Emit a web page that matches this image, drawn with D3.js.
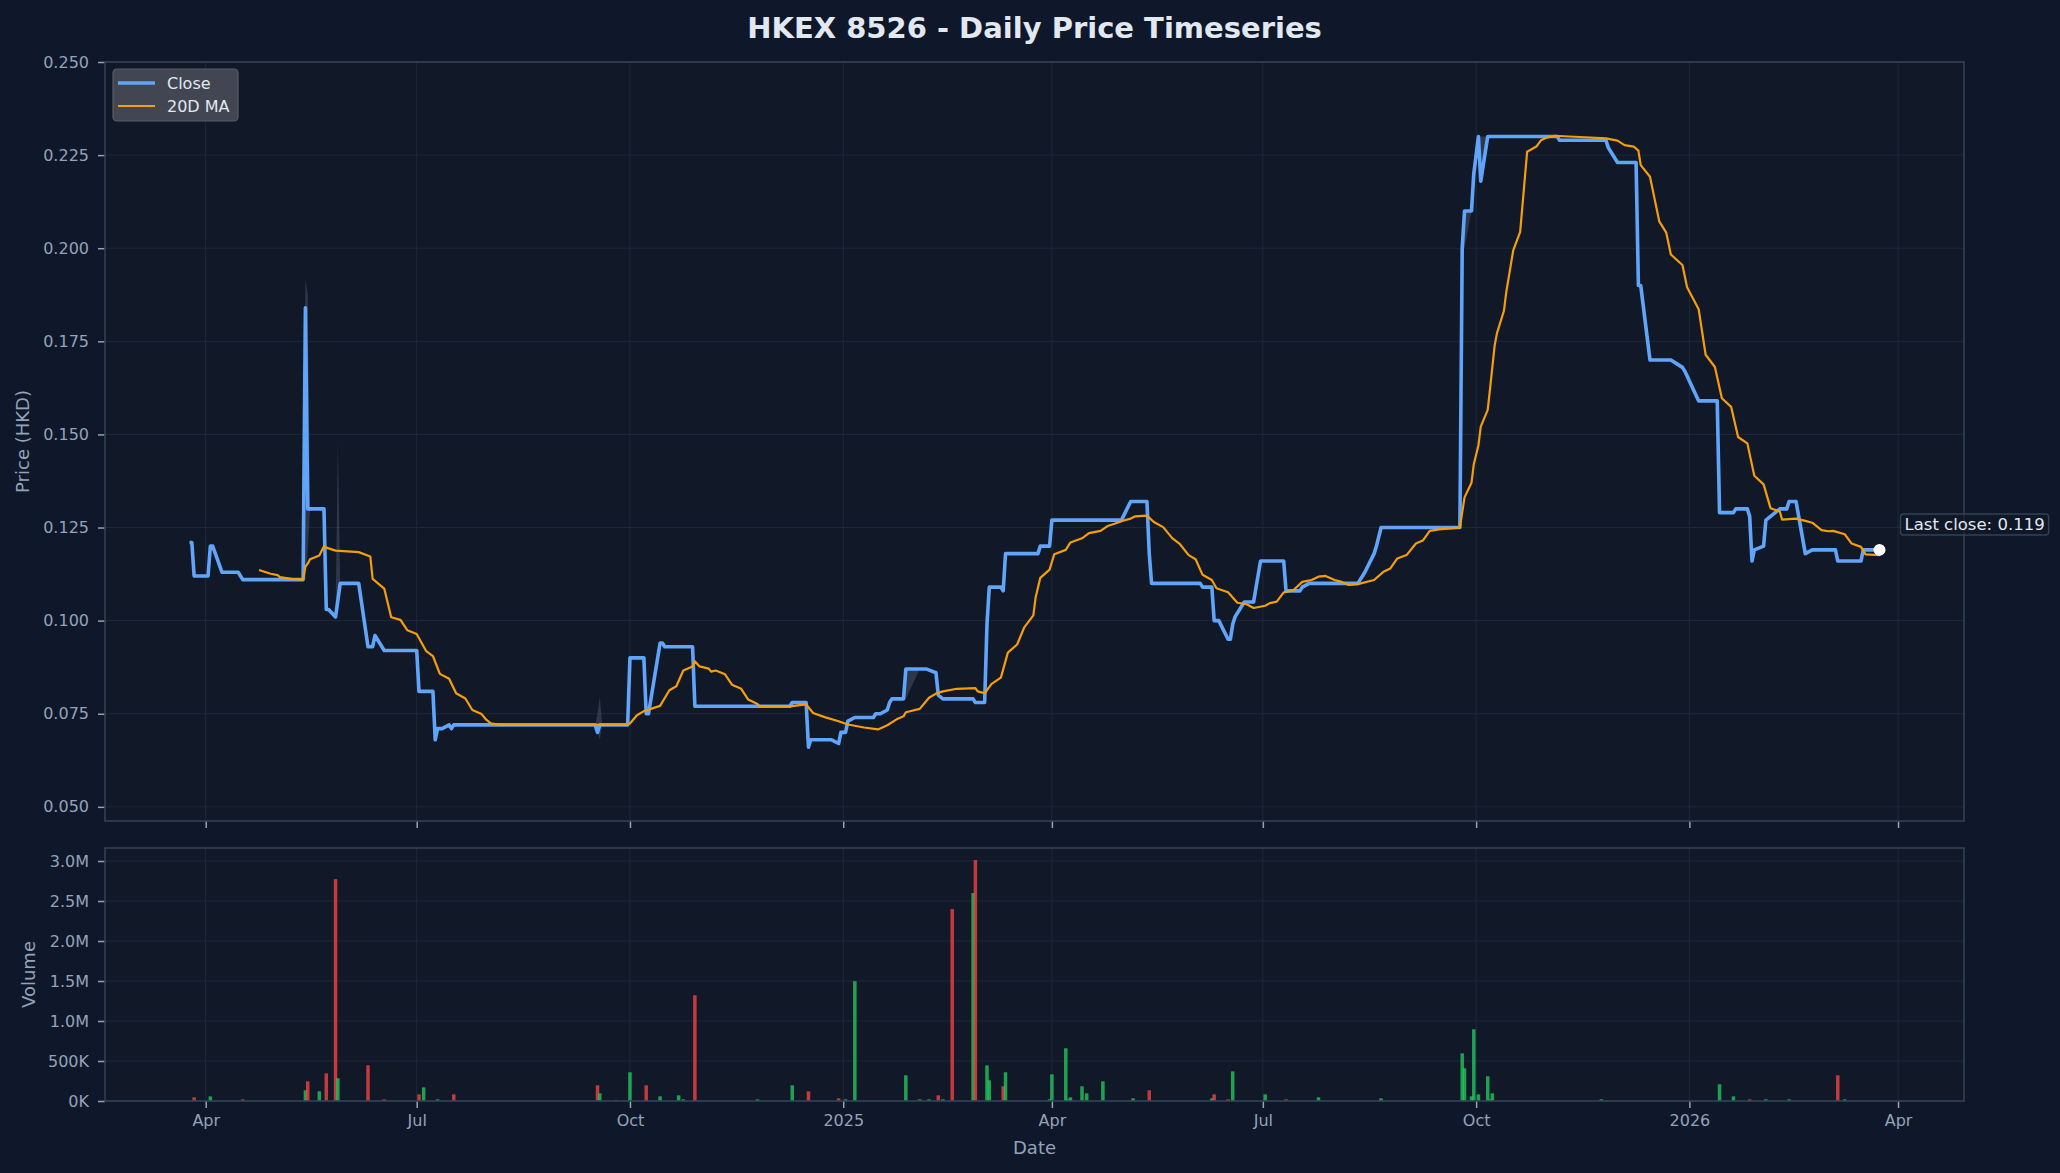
<!DOCTYPE html>
<html lang="en">
<head>
<meta charset="UTF-8">
<title>HKEX 8526 - Daily Price Timeseries</title>
<script src="https://d3js.org/d3.v7.min.js"></script>
<style>
    html, body { margin: 0; padding: 0; background: #0f172a; }
    svg { display: block; font-family: "DejaVu Sans", sans-serif; }
    .tick text { fill: #94a3b8; }
    .tick line { stroke: #94a3b8; stroke-width: 1.5; }
    .grid line { stroke: #1e293b; stroke-width: 1; }
</style>
</head>
<body>
<svg id="chart" width="2060" height="1173"></svg>
<script>
// close price vertices (date, HKD)
const closeData = [
["2024-03-25",0.121],["2024-03-26",0.121],["2024-03-27",0.112],["2024-04-02",0.112],["2024-04-03",0.120],["2024-04-04",0.120],["2024-04-08",0.113],["2024-04-15",0.113],["2024-04-16",0.112],["2024-04-17",0.111],
["2024-05-13",0.111],["2024-05-14",0.184],["2024-05-15",0.130],["2024-05-22",0.130],["2024-05-23",0.103],["2024-05-24",0.103],["2024-05-27",0.101],["2024-05-29",0.110],["2024-06-06",0.110],["2024-06-10",0.093],["2024-06-12",0.093],["2024-06-13",0.096],["2024-06-17",0.092],
["2024-07-01",0.092],["2024-07-02",0.081],["2024-07-08",0.081],["2024-07-09",0.068],["2024-07-10",0.071],["2024-07-12",0.071],["2024-07-15",0.072],["2024-07-16",0.071],["2024-07-17",0.072],
["2024-09-16",0.072],["2024-09-17",0.070],["2024-09-18",0.072],["2024-09-30",0.072],["2024-10-01",0.090],["2024-10-07",0.090],["2024-10-08",0.075],["2024-10-09",0.075],["2024-10-14",0.094],["2024-10-15",0.094],["2024-10-16",0.093],["2024-10-28",0.093],["2024-10-29",0.077],
["2024-12-09",0.077],["2024-12-10",0.078],["2024-12-16",0.078],["2024-12-17",0.066],["2024-12-18",0.068],["2024-12-27",0.068],["2024-12-30",0.067],["2024-12-31",0.070],["2025-01-02",0.070],["2025-01-03",0.073],["2025-01-06",0.074],["2025-01-14",0.074],["2025-01-15",0.075],["2025-01-17",0.075],["2025-01-20",0.076],["2025-01-21",0.078],["2025-01-22",0.079],["2025-01-27",0.079],["2025-01-28",0.087],["2025-02-06",0.087],["2025-02-10",0.086],["2025-02-11",0.080],["2025-02-13",0.079],["2025-02-26",0.079],["2025-02-27",0.078],["2025-03-03",0.078],["2025-03-04",0.099],["2025-03-05",0.109],["2025-03-10",0.109],["2025-03-11",0.108],["2025-03-12",0.118],["2025-03-26",0.118],["2025-03-27",0.120],["2025-03-31",0.120],["2025-04-01",0.127],
["2025-05-01",0.127],["2025-05-05",0.132],["2025-05-12",0.132],["2025-05-13",0.118],["2025-05-14",0.110],["2025-06-04",0.110],["2025-06-05",0.109],["2025-06-09",0.109],["2025-06-10",0.100],["2025-06-12",0.100],["2025-06-16",0.095],["2025-06-17",0.095],["2025-06-18",0.099],["2025-06-19",0.101],["2025-06-23",0.105],["2025-06-27",0.105],["2025-06-30",0.116],["2025-07-10",0.116],["2025-07-11",0.108],["2025-07-17",0.108],["2025-07-18",0.109],["2025-07-21",0.110],["2025-08-11",0.110],["2025-08-12",0.111],["2025-08-13",0.112],["2025-08-14",0.113],["2025-08-18",0.118],["2025-08-19",0.120],["2025-08-21",0.125],
["2025-09-24",0.125],["2025-09-25",0.200],["2025-09-26",0.210],["2025-09-29",0.210],["2025-09-30",0.220],["2025-10-02",0.230],["2025-10-03",0.218],["2025-10-06",0.230],["2025-11-05",0.230],["2025-11-06",0.229],["2025-11-26",0.229],["2025-11-27",0.227],["2025-12-01",0.223],["2025-12-09",0.223],["2025-12-10",0.190],["2025-12-11",0.190],["2025-12-15",0.170],["2025-12-24",0.170],["2025-12-29",0.168],["2025-12-30",0.167],["2026-01-02",0.163],["2026-01-05",0.159],["2026-01-13",0.159],["2026-01-14",0.129],["2026-01-20",0.129],["2026-01-21",0.130],["2026-01-26",0.130],["2026-01-27",0.128],["2026-01-28",0.116],["2026-01-29",0.119],["2026-02-02",0.120],["2026-02-03",0.127],["2026-02-05",0.128],["2026-02-09",0.130],["2026-02-12",0.130],["2026-02-13",0.132],["2026-02-16",0.132],["2026-02-20",0.118],["2026-02-23",0.119],["2026-03-05",0.119],["2026-03-06",0.116],["2026-03-16",0.116],["2026-03-17",0.119],["2026-03-24",0.119]
];

// 20 day moving average vertices
const maData = [
["2024-04-24",0.1136],["2024-04-29",0.1126],["2024-05-02",0.1122],["2024-05-03",0.1117],["2024-05-08",0.1112],["2024-05-13",0.1110],["2024-05-14",0.1145],["2024-05-15",0.1153],["2024-05-16",0.1165],["2024-05-20",0.1175],["2024-05-22",0.1200],["2024-05-23",0.1196],["2024-05-27",0.1188],["2024-06-06",0.1184],["2024-06-11",0.1172],["2024-06-12",0.1112],["2024-06-17",0.1086],["2024-06-20",0.1009],["2024-06-24",0.1002],["2024-06-27",0.0974],["2024-07-01",0.0964],["2024-07-05",0.0919],["2024-07-08",0.0905],["2024-07-11",0.0857],["2024-07-15",0.0844],["2024-07-18",0.0805],["2024-07-22",0.0791],["2024-07-25",0.0760],["2024-07-29",0.0749],["2024-07-31",0.0734],["2024-08-02",0.0724],["2024-08-06",0.0720],
["2024-09-30",0.0720],["2024-10-01",0.0724],["2024-10-04",0.0746],["2024-10-07",0.0757],["2024-10-10",0.0763],["2024-10-14",0.0771],["2024-10-18",0.0813],["2024-10-21",0.0824],["2024-10-24",0.0866],["2024-10-28",0.0877],["2024-10-29",0.0891],["2024-10-31",0.0877],["2024-11-04",0.0871],["2024-11-05",0.0863],["2024-11-07",0.0866],["2024-11-11",0.0856],["2024-11-14",0.0828],["2024-11-18",0.0817],["2024-11-21",0.0788],["2024-11-25",0.0776],["2024-11-26",0.0770],["2024-12-09",0.0770],["2024-12-16",0.0775],["2024-12-19",0.0752],["2024-12-24",0.0741],["2024-12-30",0.0730],["2025-01-03",0.0721],["2025-01-10",0.0713],["2025-01-16",0.0708],["2025-01-20",0.0719],["2025-01-24",0.0735],["2025-01-27",0.0743],["2025-01-28",0.0754],["2025-02-03",0.0763],["2025-02-07",0.0793],["2025-02-10",0.0804],["2025-02-13",0.0810],["2025-02-19",0.0817],["2025-02-27",0.0819],["2025-02-28",0.0810],["2025-03-03",0.0805],["2025-03-06",0.0830],["2025-03-10",0.0847],["2025-03-13",0.0914],["2025-03-17",0.0936],["2025-03-20",0.0981],["2025-03-24",0.1014],["2025-03-25",0.1063],["2025-03-27",0.1115],["2025-03-31",0.1137],["2025-04-02",0.1178],["2025-04-07",0.1190],["2025-04-09",0.1210],["2025-04-14",0.1221],["2025-04-17",0.1235],["2025-04-22",0.1241],["2025-04-25",0.1254],["2025-04-28",0.1260],["2025-05-02",0.1269],["2025-05-05",0.1274],["2025-05-07",0.1280],["2025-05-12",0.1282],["2025-05-15",0.1265],["2025-05-19",0.1251],["2025-05-23",0.1221],["2025-05-26",0.1207],["2025-05-30",0.1176],["2025-06-02",0.1165],["2025-06-05",0.1123],["2025-06-09",0.1109],["2025-06-11",0.1087],["2025-06-16",0.1076],["2025-06-20",0.1048],["2025-06-24",0.1044],["2025-06-27",0.1034],["2025-07-02",0.1040],["2025-07-04",0.1047],["2025-07-07",0.1051],["2025-07-10",0.1076],["2025-07-14",0.1081],["2025-07-18",0.1104],["2025-07-22",0.1109],["2025-07-25",0.1118],["2025-07-28",0.1120],["2025-08-01",0.1109],["2025-08-04",0.1104],["2025-08-07",0.1096],["2025-08-11",0.1098],["2025-08-18",0.1109],["2025-08-22",0.1131],["2025-08-25",0.1140],["2025-08-28",0.1167],["2025-09-01",0.1176],["2025-09-05",0.1207],["2025-09-08",0.1215],["2025-09-11",0.1241],["2025-09-15",0.1245],["2025-09-24",0.1250],["2025-09-26",0.1331],["2025-09-29",0.1370],["2025-09-30",0.1420],["2025-10-02",0.1471],["2025-10-03",0.1521],["2025-10-06",0.1566],["2025-10-07",0.1622],["2025-10-09",0.1739],["2025-10-10",0.1772],["2025-10-13",0.1832],["2025-10-14",0.1882],["2025-10-17",0.1994],["2025-10-20",0.2044],["2025-10-23",0.2259],["2025-10-27",0.2273],["2025-10-29",0.2290],["2025-10-31",0.2296],["2025-11-04",0.2302],["2025-11-10",0.2300],["2025-11-17",0.2298],["2025-11-26",0.2295],["2025-12-01",0.2289],["2025-12-04",0.2277],["2025-12-08",0.2273],["2025-12-10",0.2262],["2025-12-11",0.2223],["2025-12-15",0.2192],["2025-12-19",0.2072],["2025-12-22",0.2042],["2025-12-24",0.1983],["2025-12-29",0.1955],["2025-12-31",0.1895],["2026-01-05",0.1836],["2026-01-08",0.1714],["2026-01-12",0.1681],["2026-01-15",0.1597],["2026-01-19",0.1574],["2026-01-22",0.1493],["2026-01-26",0.1476],["2026-01-29",0.1389],["2026-02-02",0.1366],["2026-02-05",0.1302],["2026-02-09",0.1293],["2026-02-10",0.1271],["2026-02-16",0.1274],["2026-02-20",0.1268],["2026-02-23",0.1263],["2026-02-27",0.1243],["2026-03-02",0.1240],["2026-03-04",0.1241],["2026-03-09",0.1232],["2026-03-12",0.1207],["2026-03-16",0.1198],["2026-03-18",0.1178],["2026-03-24",0.1176]
];

// daily high / low band where it leaves the close line: [date, low, high]
const hlBands = [
  [["2024-05-13",0.111,0.111],["2024-05-14",0.111,0.1916],["2024-05-15",0.118,0.1877],["2024-05-16",0.130,0.130]],
  [["2024-05-27",0.101,0.101],["2024-05-28",0.104,0.148],["2024-05-29",0.110,0.110]],
  [["2024-09-16",0.072,0.072],["2024-09-17",0.070,0.075],["2024-09-18",0.068,0.0796],["2024-09-19",0.072,0.072]],
  [["2025-01-27",0.079,0.079],["2025-01-28",0.079,0.087],["2025-02-03",0.087,0.087]],
  [["2025-09-25",0.200,0.200],["2025-09-26",0.200,0.210],["2025-09-29",0.210,0.210]],
  [["2025-10-02",0.230,0.230],["2025-10-03",0.218,0.230],["2025-10-06",0.230,0.230]]
];

// volume bars: [date, shares, direction]
const volumeData = [
["2024-03-27",46000,"down"],["2024-04-03",58000,"up"],["2024-04-17",21000,"down"],["2024-05-14",134000,"up"],["2024-05-15",246000,"down"],["2024-05-20",121000,"up"],["2024-05-23",346000,"down"],["2024-05-27",2774000,"down"],["2024-05-28",284000,"up"],["2024-06-10",446000,"down"],["2024-06-17",21000,"down"],["2024-07-02",83000,"down"],["2024-07-04",171000,"up"],["2024-07-10",21000,"up"],["2024-07-17",83000,"down"],
["2024-09-17",196000,"down"],["2024-09-18",96000,"up"],["2024-09-25",8000,"up"],["2024-10-01",359000,"up"],["2024-10-08",196000,"down"],["2024-10-14",58000,"up"],["2024-10-22",71000,"up"],["2024-10-24",21000,"up"],["2024-10-29",1322000,"down"],["2024-11-25",21000,"up"],["2024-12-10",196000,"up"],["2024-12-17",121000,"down"],["2024-12-30",33000,"down"],
["2025-01-02",21000,"up"],["2025-01-06",1498000,"up"],["2025-01-28",321000,"up"],["2025-02-03",21000,"up"],["2025-02-07",21000,"up"],["2025-02-11",71000,"down"],["2025-02-13",21000,"up"],["2025-02-17",2399000,"down"],["2025-02-26",2599000,"up"],["2025-02-27",3012000,"down"],["2025-03-04",446000,"up"],["2025-03-05",259000,"up"],["2025-03-11",184000,"down"],["2025-03-12",359000,"up"],["2025-03-31",21000,"up"],["2025-04-01",334000,"up"],["2025-04-07",659000,"up"],["2025-04-08",21000,"up"],["2025-04-09",46000,"up"],["2025-04-14",184000,"up"],["2025-04-16",96000,"up"],["2025-04-23",246000,"up"],["2025-05-06",33000,"up"],["2025-05-13",134000,"down"],["2025-06-09",33000,"up"],["2025-06-10",83000,"down"],["2025-06-16",21000,"down"],["2025-06-18",371000,"up"],["2025-07-02",83000,"up"],["2025-07-11",21000,"down"],["2025-07-25",46000,"up"],["2025-08-21",33000,"up"],
["2025-09-25",596000,"up"],["2025-09-26",409000,"up"],["2025-09-29",58000,"up"],["2025-09-30",897000,"up"],["2025-10-02",83000,"up"],["2025-10-06",309000,"up"],["2025-10-07",21000,"up"],["2025-10-08",96000,"up"],["2025-11-24",21000,"up"],
["2026-01-14",209000,"up"],["2026-01-20",58000,"up"],["2026-01-27",21000,"down"],["2026-02-03",21000,"up"],["2026-02-13",21000,"up"],["2026-03-06",321000,"down"],["2026-03-09",21000,"up"]
];

const priceTicks = [0.050, 0.075, 0.100, 0.125, 0.150, 0.175, 0.200, 0.225, 0.250];
const volumeTicks = [0, 500000, 1000000, 1500000, 2000000, 2500000, 3000000];
const priceRange = [0.0462, 0.250];

const parse = d3.utcParse("%Y-%m-%d");
const close = closeData.map(d => ({date: parse(d[0]), value: d[1]}));
const ma = maData.map(d => ({date: parse(d[0]), value: d[1]}));
const bands = hlBands.map(b => b.map(d => ({date: parse(d[0]), low: d[1], high: d[2]})));
const vols = volumeData.map(d => ({date: parse(d[0]), value: d[1], dir: d[2]}));

const svg = d3.select("#chart");
const left = 105, right = 1964;
const pTop = 62, pBottom = 821;
const vTop = 848, vBottom = 1101;
const FONT = "DejaVu Sans";

// x domain padded 5% each side like matplotlib
const first = close[0].date, last = close[close.length - 1].date;
const pad = (last - first) * 0.05;
const x = d3.scaleUtc().domain([new Date(+first - pad), new Date(+last + pad)]).range([left, right]);
const y = d3.scaleLinear().domain(priceRange).range([pBottom, pTop]);
const yVol = d3.scaleLinear().domain([0, d3.max(vols, d => d.value) * 1.05]).range([vBottom, vTop]);

const xTicks = d3.utcMonth.every(3).range(x.domain()[0], x.domain()[1]);
const fmtX = d => d.getUTCMonth() === 0 ? d3.utcFormat("%Y")(d) : d3.utcFormat("%b")(d);
const fmtVol = v => v < 1e6 ? (v / 1e3).toFixed(0) + "K" : (v / 1e6).toFixed(1) + "M";

// panel backgrounds
svg.append("rect").attr("x", left).attr("y", pTop).attr("width", right - left).attr("height", pBottom - pTop).attr("fill", "#111827");
svg.append("rect").attr("x", left).attr("y", vTop).attr("width", right - left).attr("height", vBottom - vTop).attr("fill", "#111827");

// grids
const gridP = svg.append("g").attr("class", "grid");
gridP.selectAll(".gy").data(priceTicks).enter().append("line")
    .attr("x1", left).attr("x2", right).attr("y1", d => y(d)).attr("y2", d => y(d));
gridP.selectAll(".gx").data(xTicks).enter().append("line")
    .attr("x1", d => x(d)).attr("x2", d => x(d)).attr("y1", pTop).attr("y2", pBottom);
const gridV = svg.append("g").attr("class", "grid");
gridV.selectAll(".gy").data(volumeTicks).enter().append("line")
    .attr("x1", left).attr("x2", right).attr("y1", d => yVol(d)).attr("y2", d => yVol(d));
gridV.selectAll(".gx").data(xTicks).enter().append("line")
    .attr("x1", d => x(d)).attr("x2", d => x(d)).attr("y1", vTop).attr("y2", vBottom);

// high-low band
const band = d3.area().x(d => x(d.date)).y0(d => y(d.low)).y1(d => y(d.high));
svg.append("g").selectAll("path").data(bands).enter().append("path")
    .attr("d", band).attr("fill", "#64748b").attr("fill-opacity", 0.35);

// price lines
const line = d3.line().x(d => x(d.date)).y(d => y(d.value));
svg.append("path").datum(close).attr("d", line)
    .attr("fill", "none").attr("stroke", "#60a5fa").attr("stroke-width", 3.6).attr("stroke-linejoin", "round");
svg.append("path").datum(ma).attr("d", line)
    .attr("fill", "none").attr("stroke", "#f59e0b").attr("stroke-width", 2.2).attr("stroke-linejoin", "round");

// volume bars
const barW = 3.5;
svg.append("g").selectAll("rect").data(vols).enter().append("rect")
    .attr("x", d => x(d.date) - barW / 2)
    .attr("y", d => yVol(d.value))
    .attr("width", barW)
    .attr("height", d => vBottom - yVol(d.value))
    .attr("fill", d => d.dir === "up" ? "#22c55e" : "#ef4444")
    .attr("fill-opacity", 0.8);

// axes
const styleAxis = g => {
    g.select(".domain").remove();
    g.attr("font-family", FONT).attr("font-size", 16);
};
svg.append("g").attr("transform", `translate(${left},0)`)
    .call(d3.axisLeft(y).tickValues(priceTicks).tickFormat(d3.format(".3f")).tickSize(7).tickPadding(9))
    .call(styleAxis);
svg.append("g").attr("transform", `translate(0,${pBottom})`)
    .call(d3.axisBottom(x).tickValues(xTicks).tickFormat("").tickSize(7))
    .call(styleAxis);
svg.append("g").attr("transform", `translate(${left},0)`)
    .call(d3.axisLeft(yVol).tickValues(volumeTicks).tickFormat(fmtVol).tickSize(7).tickPadding(9))
    .call(styleAxis);
svg.append("g").attr("transform", `translate(0,${vBottom})`)
    .call(d3.axisBottom(x).tickValues(xTicks).tickFormat(fmtX).tickSize(7).tickPadding(7))
    .call(styleAxis);

// spines
[[pTop, pBottom], [vTop, vBottom]].forEach(([t, b]) => {
    svg.append("rect").attr("x", left).attr("y", t).attr("width", right - left).attr("height", b - t)
        .attr("fill", "none").attr("stroke", "#334155").attr("stroke-width", 1.6);
});

// labels
svg.append("text").attr("x", (left + right) / 2).attr("y", 38).attr("text-anchor", "middle")
    .attr("font-family", FONT).attr("fill", "#e2e8f0").attr("font-size", 29).attr("font-weight", "bold")
    .text("HKEX 8526 - Daily Price Timeseries");
svg.append("text").attr("transform", `translate(29,${(pTop + pBottom) / 2}) rotate(-90)`)
    .attr("font-family", FONT).attr("text-anchor", "middle").attr("fill", "#94a3b8").attr("font-size", 18).text("Price (HKD)");
svg.append("text").attr("transform", `translate(35,${(vTop + vBottom) / 2}) rotate(-90)`)
    .attr("font-family", FONT).attr("text-anchor", "middle").attr("fill", "#94a3b8").attr("font-size", 18).text("Volume");
svg.append("text").attr("x", (left + right) / 2).attr("y", 1154).attr("text-anchor", "middle")
    .attr("font-family", FONT).attr("fill", "#94a3b8").attr("font-size", 18).text("Date");

// legend
const lg = svg.append("g").attr("transform", "translate(113,69)").attr("font-family", FONT);
lg.append("rect").attr("width", 125).attr("height", 52).attr("rx", 4)
    .attr("fill", "#414652").attr("stroke", "#575d69").attr("stroke-width", 1.2);
lg.append("line").attr("x1", 5).attr("x2", 42).attr("y1", 14).attr("y2", 14).attr("stroke", "#60a5fa").attr("stroke-width", 3.6);
lg.append("line").attr("x1", 5).attr("x2", 42).attr("y1", 37).attr("y2", 37).attr("stroke", "#f59e0b").attr("stroke-width", 2.2);
lg.append("text").attr("x", 54).attr("y", 20).attr("fill", "#e2e8f0").attr("font-size", 16).text("Close");
lg.append("text").attr("x", 54).attr("y", 43).attr("fill", "#e2e8f0").attr("font-size", 16).text("20D MA");

// last close marker and annotation
const lp = close[close.length - 1];
const lx = x(lp.date), ly = y(lp.value);
const ann = svg.append("g").attr("font-family", FONT);
const annText = ann.append("text").attr("x", lx + 25).attr("y", ly - 20)
    .attr("fill", "#e2e8f0").attr("font-size", 16.5).text("Last close: " + lp.value.toFixed(3));
const bb = annText.node().getBBox();
ann.insert("rect", "text").attr("x", bb.x - 4).attr("y", bb.y - 1).attr("width", bb.width + 8).attr("height", bb.height + 2)
    .attr("rx", 3).attr("fill", "#111827").attr("fill-opacity", 0.6).attr("stroke", "#334155").attr("stroke-width", 1.5);
svg.append("circle").attr("cx", lx).attr("cy", ly).attr("r", 6).attr("fill", "#ffffff");
</script>
</body>
</html>
